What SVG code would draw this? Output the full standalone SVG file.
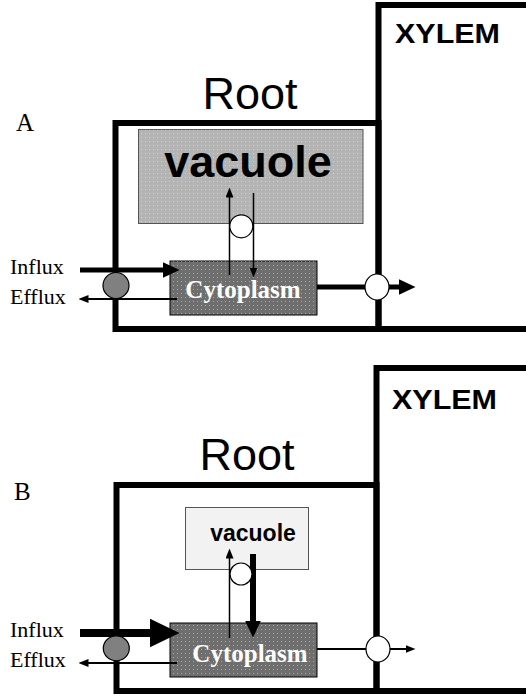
<svg xmlns="http://www.w3.org/2000/svg" width="526" height="696" viewBox="0 0 526 696">
<style>
.wall{fill:none;stroke:#000;stroke-width:6;stroke-linejoin:miter}
.lbl{font-family:"Liberation Serif","Times New Roman",serif;fill:#000}
.sans{font-family:"Liberation Sans",Arial,sans-serif;fill:#000}
.cyto{fill:#6e6e6e;stroke:#000;stroke-width:1}
.cytotext{font-family:"Liberation Serif","Times New Roman",serif;font-weight:bold;font-size:25px;fill:#fff;text-anchor:middle}
.ln{stroke:#000;fill:none}
.white{fill:#fff;stroke:#000;stroke-width:1.2}
.grey{fill:#808080;stroke:#000;stroke-width:1.2}
</style>
<defs>
<pattern id="dots" width="4" height="4" patternUnits="userSpaceOnUse">
<rect x="1" y="1" width="1" height="1" fill="#fff" fill-opacity="0.4"/>
</pattern>
<marker id="thin" markerUnits="userSpaceOnUse" viewBox="0 0 10 8" markerWidth="10" markerHeight="8" refX="0.5" refY="4" orient="auto"><path d="M0,0 L10,4 L0,8 z" fill="#000"/></marker>
<marker id="tiny" markerUnits="userSpaceOnUse" viewBox="0 0 10 8" markerWidth="10" markerHeight="8" refX="0.5" refY="4" orient="auto"><path d="M0,0 L10,4 L0,8 z" fill="#000"/></marker>
<marker id="thick" markerUnits="userSpaceOnUse" viewBox="0 0 17 16" markerWidth="17" markerHeight="16" refX="0.5" refY="8" orient="auto"><path d="M0,0 L17,8 L0,16 z" fill="#000"/></marker>
<marker id="big" markerUnits="userSpaceOnUse" viewBox="0 0 30 29" markerWidth="30" markerHeight="29" refX="0.5" refY="14.5" orient="auto"><path d="M0,0 L30,14.5 L0,29 z" fill="#000"/></marker>
</defs>
<rect width="526" height="696" fill="#fff"/>

<!-- Panel A -->
<g id="labelA"><text class="lbl" x="16" y="131" font-size="25">A</text></g>
<g id="rootA">
<rect class="wall" x="115.5" y="123" width="263" height="206"/>
<text class="sans" x="250" y="109" font-size="45" text-anchor="middle">Root</text>
</g>
<g id="xylemA">
<path class="wall" d="M530,5 H378.5 V329 H530"/>
<text class="sans" x="395" y="43" font-size="27" font-weight="bold" textLength="105" lengthAdjust="spacingAndGlyphs">XYLEM</text>
</g>
<g id="vacuoleA">
<rect x="138.5" y="129.5" width="224.5" height="94" fill="#b4b4b4" stroke="#555" stroke-width="1"/>
<rect x="138.5" y="129.5" width="224.5" height="94" fill="url(#dots)"/>
<text class="sans" x="248" y="177" font-size="45" font-weight="bold" text-anchor="middle">vacuole</text>
</g>
<g id="cytoplasmA">
<rect class="cyto" x="170" y="261" width="147" height="54"/>
<rect x="170" y="261" width="147" height="54" fill="url(#dots)"/>
<text class="cytotext" x="243" y="298">Cytoplasm</text>
</g>
<g id="fluxLabelsA">
<text class="lbl" x="10" y="274" font-size="22">Influx</text>
<text class="lbl" x="10" y="304" font-size="22">Efflux</text>
</g>

<!-- Panel B -->
<g id="labelB"><text class="lbl" x="14" y="500" font-size="25">B</text></g>
<g id="rootB">
<rect class="wall" x="116.5" y="485" width="260" height="206"/>
<text class="sans" x="247" y="470" font-size="45" text-anchor="middle">Root</text>
</g>
<g id="xylemB">
<path class="wall" d="M530,368 H376.5 V691 H530"/>
<text class="sans" x="392" y="409" font-size="27" font-weight="bold" textLength="105" lengthAdjust="spacingAndGlyphs">XYLEM</text>
</g>
<g id="vacuoleB">
<rect x="185.5" y="507.5" width="123" height="62" fill="#f2f2f2" stroke="#555" stroke-width="1"/>
<text class="sans" x="253" y="541" font-size="23" font-weight="bold" text-anchor="middle">vacuole</text>
</g>
<g id="cytoplasmB">
<rect class="cyto" x="170" y="623" width="147" height="54"/>
<rect x="170" y="623" width="147" height="54" fill="url(#dots)"/>
<text class="cytotext" x="250" y="662">Cytoplasm</text>
</g>
<g id="fluxLabelsB">
<text class="lbl" x="10" y="637" font-size="22">Influx</text>
<text class="lbl" x="10" y="667" font-size="22">Efflux</text>
</g>

<g id="connectors">
<!-- A -->
<line class="ln" x1="80" y1="270" x2="163" y2="270" stroke-width="5" marker-end="url(#thick)"/>
<line class="ln" x1="177" y1="299" x2="88" y2="299" stroke-width="2" marker-end="url(#thin)"/>
<line class="ln" x1="229.5" y1="275" x2="229.5" y2="197" stroke-width="1.5" marker-end="url(#tiny)"/>
<line class="ln" x1="253.5" y1="193" x2="253.5" y2="268" stroke-width="1.5" marker-end="url(#tiny)"/>
<line class="ln" x1="317" y1="287" x2="399" y2="287" stroke-width="5" marker-end="url(#thick)"/>
<!-- B -->
<line class="ln" x1="80" y1="633" x2="150" y2="633" stroke-width="8" marker-end="url(#big)"/>
<line class="ln" x1="177" y1="663" x2="88" y2="663" stroke-width="2" marker-end="url(#thin)"/>
<line class="ln" x1="229.5" y1="638" x2="229.5" y2="558" stroke-width="1.5" marker-end="url(#tiny)"/>
<line class="ln" x1="253" y1="554" x2="253" y2="621" stroke-width="6" marker-end="url(#thick)"/>
<line class="ln" x1="317" y1="649" x2="406" y2="649" stroke-width="2" marker-end="url(#thin)"/>
</g>

<g id="channelsA">
<ellipse class="grey" cx="116" cy="285.5" rx="13" ry="13"/>
<circle class="white" cx="241.3" cy="226.3" r="11.5"/>
<ellipse class="white" cx="377" cy="287" rx="12" ry="13"/>
</g>
<g id="channelsB">
<ellipse class="grey" cx="116.3" cy="648.3" rx="13" ry="12.5"/>
<circle class="white" cx="241" cy="574" r="11"/>
<ellipse class="white" cx="378" cy="649" rx="12" ry="13"/>
</g>
</svg>
